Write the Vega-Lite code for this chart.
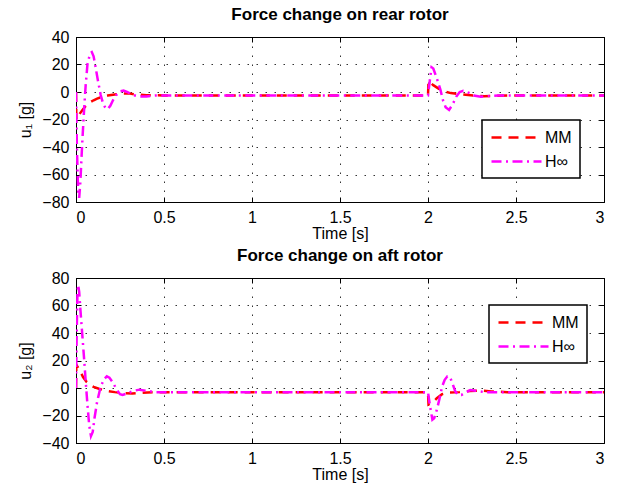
{
  "$schema": "https://vega.github.io/schema/vega-lite/v6.json",
  "background": "white",
  "padding": {"left": 17, "top": 5, "right": 5, "bottom": 3},
  "config": {
    "font": "Liberation Sans",
    "view": {"stroke": "black", "strokeWidth": 1},
    "axis": {
      "labelFont": "Liberation Sans", "labelFontSize": 16, "labelColor": "black",
      "titleFont": "Liberation Sans", "titleFontSize": 16, "titleFontWeight": "normal", "titleColor": "black",
      "domainColor": "black", "tickColor": "black", "tickSize": -5, "labelPadding": 12,
      "gridColor": "black", "gridDash": [1.5, 7.5], "gridOpacity": 0.8, "gridWidth": 1
    },
    "title": {"font": "Liberation Sans", "fontSize": 17, "fontWeight": "bold", "color": "black", "offset": 5, "anchor": "middle", "frame": "group"},
    "legend": {"labelFont": "Liberation Sans", "labelFontSize": 16, "labelColor": "black", "strokeColor": "black", "strokeWidth": 1.5, "fillColor": "white", "padding": 8, "rowPadding": 6, "labelOffset": 36}
  },
  "datasets": {
    "d": [
      {"p":"rear","s":"MM","t":0,"u":0},{"p":"rear","s":"MM","t":0.002,"u":-20},{"p":"rear","s":"MM","t":0.02,"u":-16},{"p":"rear","s":"MM","t":0.04,"u":-12.5},{"p":"rear","s":"MM","t":0.06,"u":-9.5},{"p":"rear","s":"MM","t":0.08,"u":-7.5},{"p":"rear","s":"MM","t":0.1,"u":-6},{"p":"rear","s":"MM","t":0.12,"u":-4.8},{"p":"rear","s":"MM","t":0.15,"u":-3.5},{"p":"rear","s":"MM","t":0.18,"u":-2.6},{"p":"rear","s":"MM","t":0.22,"u":-1.8},{"p":"rear","s":"MM","t":0.27,"u":-1},{"p":"rear","s":"MM","t":0.3,"u":-1},{"p":"rear","s":"MM","t":0.33,"u":-1.6},{"p":"rear","s":"MM","t":0.4,"u":-2.3},{"p":"rear","s":"MM","t":0.5,"u":-2.5},{"p":"rear","s":"MM","t":2.0,"u":-2.5},{"p":"rear","s":"MM","t":2.003,"u":8},{"p":"rear","s":"MM","t":2.03,"u":5},{"p":"rear","s":"MM","t":2.06,"u":2.5},{"p":"rear","s":"MM","t":2.09,"u":0.5},{"p":"rear","s":"MM","t":2.13,"u":-0.8},{"p":"rear","s":"MM","t":2.2,"u":-1.8},{"p":"rear","s":"MM","t":2.26,"u":-2.6},{"p":"rear","s":"MM","t":2.32,"u":-3},{"p":"rear","s":"MM","t":2.4,"u":-2.7},{"p":"rear","s":"MM","t":2.5,"u":-2.5},{"p":"rear","s":"MM","t":3.0,"u":-2.5},
      {"p":"rear","s":"H∞","t":0,"u":0},{"p":"rear","s":"H∞","t":0.005,"u":-40},{"p":"rear","s":"H∞","t":0.012,"u":-72},{"p":"rear","s":"H∞","t":0.018,"u":-77},{"p":"rear","s":"H∞","t":0.025,"u":-65},{"p":"rear","s":"H∞","t":0.035,"u":-38},{"p":"rear","s":"H∞","t":0.045,"u":-15},{"p":"rear","s":"H∞","t":0.055,"u":5},{"p":"rear","s":"H∞","t":0.065,"u":20},{"p":"rear","s":"H∞","t":0.08,"u":28},{"p":"rear","s":"H∞","t":0.09,"u":29},{"p":"rear","s":"H∞","t":0.1,"u":26},{"p":"rear","s":"H∞","t":0.11,"u":19},{"p":"rear","s":"H∞","t":0.125,"u":8},{"p":"rear","s":"H∞","t":0.14,"u":-2},{"p":"rear","s":"H∞","t":0.155,"u":-9},{"p":"rear","s":"H∞","t":0.17,"u":-12},{"p":"rear","s":"H∞","t":0.18,"u":-12.5},{"p":"rear","s":"H∞","t":0.195,"u":-10},{"p":"rear","s":"H∞","t":0.21,"u":-6},{"p":"rear","s":"H∞","t":0.23,"u":-2},{"p":"rear","s":"H∞","t":0.25,"u":0.5},{"p":"rear","s":"H∞","t":0.27,"u":1},{"p":"rear","s":"H∞","t":0.29,"u":0},{"p":"rear","s":"H∞","t":0.32,"u":-2},{"p":"rear","s":"H∞","t":0.36,"u":-3.3},{"p":"rear","s":"H∞","t":0.4,"u":-3.2},{"p":"rear","s":"H∞","t":0.45,"u":-2.6},{"p":"rear","s":"H∞","t":0.5,"u":-2.5},{"p":"rear","s":"H∞","t":2.0,"u":-2.5},{"p":"rear","s":"H∞","t":2.01,"u":8},{"p":"rear","s":"H∞","t":2.02,"u":18},{"p":"rear","s":"H∞","t":2.03,"u":17},{"p":"rear","s":"H∞","t":2.05,"u":10},{"p":"rear","s":"H∞","t":2.07,"u":2},{"p":"rear","s":"H∞","t":2.085,"u":-6},{"p":"rear","s":"H∞","t":2.1,"u":-11},{"p":"rear","s":"H∞","t":2.12,"u":-13},{"p":"rear","s":"H∞","t":2.14,"u":-9},{"p":"rear","s":"H∞","t":2.16,"u":-3.5},{"p":"rear","s":"H∞","t":2.18,"u":0},{"p":"rear","s":"H∞","t":2.2,"u":0.8},{"p":"rear","s":"H∞","t":2.23,"u":-0.5},{"p":"rear","s":"H∞","t":2.26,"u":-2.5},{"p":"rear","s":"H∞","t":2.3,"u":-3.5},{"p":"rear","s":"H∞","t":2.34,"u":-3},{"p":"rear","s":"H∞","t":2.4,"u":-2.5},{"p":"rear","s":"H∞","t":3.0,"u":-2.5},
      {"p":"aft","s":"MM","t":0,"u":0},{"p":"aft","s":"MM","t":0.002,"u":17},{"p":"aft","s":"MM","t":0.02,"u":13},{"p":"aft","s":"MM","t":0.04,"u":8},{"p":"aft","s":"MM","t":0.06,"u":4.5},{"p":"aft","s":"MM","t":0.08,"u":2.2},{"p":"aft","s":"MM","t":0.1,"u":0.8},{"p":"aft","s":"MM","t":0.13,"u":-0.5},{"p":"aft","s":"MM","t":0.17,"u":-2},{"p":"aft","s":"MM","t":0.22,"u":-3},{"p":"aft","s":"MM","t":0.27,"u":-3.8},{"p":"aft","s":"MM","t":0.32,"u":-4},{"p":"aft","s":"MM","t":0.37,"u":-3.5},{"p":"aft","s":"MM","t":0.45,"u":-3},{"p":"aft","s":"MM","t":0.5,"u":-3},{"p":"aft","s":"MM","t":2.0,"u":-3},{"p":"aft","s":"MM","t":2.003,"u":-12},{"p":"aft","s":"MM","t":2.03,"u":-10},{"p":"aft","s":"MM","t":2.05,"u":-7.5},{"p":"aft","s":"MM","t":2.08,"u":-4.5},{"p":"aft","s":"MM","t":2.12,"u":-3.2},{"p":"aft","s":"MM","t":2.18,"u":-3},{"p":"aft","s":"MM","t":2.24,"u":-2.2},{"p":"aft","s":"MM","t":2.3,"u":-1.8},{"p":"aft","s":"MM","t":2.36,"u":-2.5},{"p":"aft","s":"MM","t":2.45,"u":-3},{"p":"aft","s":"MM","t":3.0,"u":-3},
      {"p":"aft","s":"H∞","t":0,"u":0},{"p":"aft","s":"H∞","t":0.004,"u":40},{"p":"aft","s":"H∞","t":0.008,"u":68},{"p":"aft","s":"H∞","t":0.012,"u":75},{"p":"aft","s":"H∞","t":0.018,"u":70},{"p":"aft","s":"H∞","t":0.025,"u":57},{"p":"aft","s":"H∞","t":0.035,"u":40},{"p":"aft","s":"H∞","t":0.045,"u":23},{"p":"aft","s":"H∞","t":0.055,"u":5},{"p":"aft","s":"H∞","t":0.065,"u":-12},{"p":"aft","s":"H∞","t":0.075,"u":-27},{"p":"aft","s":"H∞","t":0.085,"u":-35},{"p":"aft","s":"H∞","t":0.095,"u":-32},{"p":"aft","s":"H∞","t":0.105,"u":-22},{"p":"aft","s":"H∞","t":0.12,"u":-10},{"p":"aft","s":"H∞","t":0.14,"u":1},{"p":"aft","s":"H∞","t":0.16,"u":6.5},{"p":"aft","s":"H∞","t":0.175,"u":8.5},{"p":"aft","s":"H∞","t":0.19,"u":7.5},{"p":"aft","s":"H∞","t":0.21,"u":4},{"p":"aft","s":"H∞","t":0.23,"u":-1},{"p":"aft","s":"H∞","t":0.25,"u":-4.5},{"p":"aft","s":"H∞","t":0.265,"u":-5},{"p":"aft","s":"H∞","t":0.29,"u":-4},{"p":"aft","s":"H∞","t":0.33,"u":-2},{"p":"aft","s":"H∞","t":0.36,"u":-1.2},{"p":"aft","s":"H∞","t":0.4,"u":-2},{"p":"aft","s":"H∞","t":0.45,"u":-3},{"p":"aft","s":"H∞","t":0.5,"u":-3},{"p":"aft","s":"H∞","t":2.0,"u":-3},{"p":"aft","s":"H∞","t":2.01,"u":-12},{"p":"aft","s":"H∞","t":2.025,"u":-23},{"p":"aft","s":"H∞","t":2.035,"u":-22},{"p":"aft","s":"H∞","t":2.05,"u":-16},{"p":"aft","s":"H∞","t":2.065,"u":-8},{"p":"aft","s":"H∞","t":2.08,"u":1},{"p":"aft","s":"H∞","t":2.095,"u":6},{"p":"aft","s":"H∞","t":2.11,"u":8.5},{"p":"aft","s":"H∞","t":2.125,"u":8},{"p":"aft","s":"H∞","t":2.14,"u":3},{"p":"aft","s":"H∞","t":2.155,"u":-2.5},{"p":"aft","s":"H∞","t":2.17,"u":-5},{"p":"aft","s":"H∞","t":2.19,"u":-5},{"p":"aft","s":"H∞","t":2.21,"u":-3.5},{"p":"aft","s":"H∞","t":2.24,"u":-1.5},{"p":"aft","s":"H∞","t":2.27,"u":-2},{"p":"aft","s":"H∞","t":2.32,"u":-3},{"p":"aft","s":"H∞","t":3.0,"u":-3}
    ]
  },
  "spacing": 76,
  "bounds": "flush",
  "vconcat": [
    {
      "width": 528, "height": 165,
      "title": "Force change on rear rotor",
      "data": {"name": "d"},
      "transform": [{"filter": "datum.p == 'rear'"}],
      "layer": [
        {
          "transform": [{"filter": "datum.s == 'MM'"}],
          "mark": {"type": "line", "strokeWidth": 2.5, "clip": true},
          "encoding": {
            "x": {"field": "t", "type": "quantitative", "scale": {"domain": [0, 3], "nice": false},
                  "axis": {"values": [0, 0.5, 1, 1.5, 2, 2.5, 3], "format": ".1~f", "title": "Time [s]", "titlePadding": 0, "grid": true}},
            "y": {"field": "u", "type": "quantitative", "scale": {"domain": [-80, 40], "nice": false},
                  "axis": {"values": [-80, -60, -40, -20, 0, 20, 40], "title": "u₁ [g]", "titlePadding": 8, "grid": true}},
            "color": {"field": "s", "type": "nominal", "scale": {"domain": ["MM", "H∞"], "range": ["#ff0000", "#ff00ff"]},
                      "legend": {"title": null, "orient": "none", "legendX": 406, "legendY": 83, "symbolType": "M-1,0H5.25", "symbolSize": 256, "symbolStrokeWidth": 2.5}},
            "strokeDash": {"field": "s", "type": "nominal", "scale": {"domain": ["MM", "H∞"], "range": [[10, 7], [10, 4.5, 2, 4.5]]},
                      "legend": {"title": null, "orient": "none", "legendX": 406, "legendY": 83, "symbolType": "M-1,0H5.25", "symbolSize": 256, "symbolStrokeWidth": 2.5}}
          }
        },
        {
          "transform": [{"filter": "datum.s == 'H∞'"}],
          "mark": {"type": "line", "strokeWidth": 2.5, "clip": true},
          "encoding": {
            "x": {"field": "t", "type": "quantitative", "scale": {"domain": [0, 3], "nice": false},
                  "axis": {"orient": "top", "values": [0, 0.5, 1, 1.5, 2, 2.5, 3], "labels": false, "title": null, "grid": false, "domain": false}},
            "y": {"field": "u", "type": "quantitative", "scale": {"domain": [-80, 40], "nice": false},
                  "axis": {"orient": "right", "values": [-80, -60, -40, -20, 0, 20, 40], "labels": false, "title": null, "grid": false, "domain": false}},
            "color": {"field": "s", "type": "nominal", "scale": {"domain": ["MM", "H∞"], "range": ["#ff0000", "#ff00ff"]},
                      "legend": {"title": null, "orient": "none", "legendX": 406, "legendY": 83, "symbolType": "M-1,0H5.25", "symbolSize": 256, "symbolStrokeWidth": 2.5}},
            "strokeDash": {"field": "s", "type": "nominal", "scale": {"domain": ["MM", "H∞"], "range": [[10, 7], [10, 4.5, 2, 4.5]]},
                      "legend": {"title": null, "orient": "none", "legendX": 406, "legendY": 83, "symbolType": "M-1,0H5.25", "symbolSize": 256, "symbolStrokeWidth": 2.5}}
          }
        }
      ],
      "resolve": {"axis": {"x": "independent", "y": "independent"}}
    },
    {
      "width": 528, "height": 165,
      "title": "Force change on aft rotor",
      "data": {"name": "d"},
      "transform": [{"filter": "datum.p == 'aft'"}],
      "layer": [
        {
          "transform": [{"filter": "datum.s == 'MM'"}],
          "mark": {"type": "line", "strokeWidth": 2.5, "clip": true},
          "encoding": {
            "x": {"field": "t", "type": "quantitative", "scale": {"domain": [0, 3], "nice": false},
                  "axis": {"values": [0, 0.5, 1, 1.5, 2, 2.5, 3], "format": ".1~f", "title": "Time [s]", "titlePadding": 0, "grid": true}},
            "y": {"field": "u", "type": "quantitative", "scale": {"domain": [-40, 80], "nice": false},
                  "axis": {"values": [-40, -20, 0, 20, 40, 60, 80], "title": "u₂ [g]", "titlePadding": 8, "grid": true}},
            "color": {"field": "s", "type": "nominal", "scale": {"domain": ["MM", "H∞"], "range": ["#ff0000", "#ff00ff"]},
                      "legend": {"title": null, "orient": "none", "legendX": 413, "legendY": 27, "symbolType": "M-1,0H5.25", "symbolSize": 256, "symbolStrokeWidth": 2.5}},
            "strokeDash": {"field": "s", "type": "nominal", "scale": {"domain": ["MM", "H∞"], "range": [[10, 7], [10, 4.5, 2, 4.5]]},
                      "legend": {"title": null, "orient": "none", "legendX": 413, "legendY": 27, "symbolType": "M-1,0H5.25", "symbolSize": 256, "symbolStrokeWidth": 2.5}}
          }
        },
        {
          "transform": [{"filter": "datum.s == 'H∞'"}],
          "mark": {"type": "line", "strokeWidth": 2.5, "clip": true},
          "encoding": {
            "x": {"field": "t", "type": "quantitative", "scale": {"domain": [0, 3], "nice": false},
                  "axis": {"orient": "top", "values": [0, 0.5, 1, 1.5, 2, 2.5, 3], "labels": false, "title": null, "grid": false, "domain": false}},
            "y": {"field": "u", "type": "quantitative", "scale": {"domain": [-40, 80], "nice": false},
                  "axis": {"orient": "right", "values": [-40, -20, 0, 20, 40, 60, 80], "labels": false, "title": null, "grid": false, "domain": false}},
            "color": {"field": "s", "type": "nominal", "scale": {"domain": ["MM", "H∞"], "range": ["#ff0000", "#ff00ff"]},
                      "legend": {"title": null, "orient": "none", "legendX": 413, "legendY": 27, "symbolType": "M-1,0H5.25", "symbolSize": 256, "symbolStrokeWidth": 2.5}},
            "strokeDash": {"field": "s", "type": "nominal", "scale": {"domain": ["MM", "H∞"], "range": [[10, 7], [10, 4.5, 2, 4.5]]},
                      "legend": {"title": null, "orient": "none", "legendX": 413, "legendY": 27, "symbolType": "M-1,0H5.25", "symbolSize": 256, "symbolStrokeWidth": 2.5}}
          }
        }
      ],
      "resolve": {"axis": {"x": "independent", "y": "independent"}}
    }
  ],
  "resolve": {"scale": {"color": "independent", "strokeDash": "independent"}, "legend": {"color": "independent", "strokeDash": "independent"}}
}
